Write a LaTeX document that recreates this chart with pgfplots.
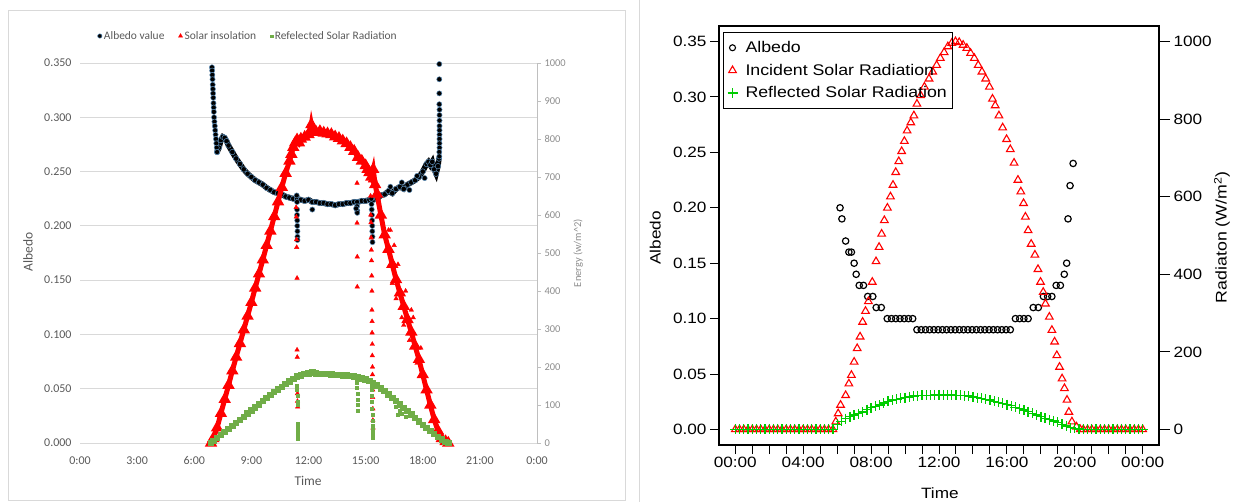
\documentclass[border=0pt]{standalone}
\usepackage{fontspec}
\setmainfont{Carlito}
\newfontfamily\arl[FakeStretch=1.15]{Liberation Sans}
\usepackage{pgfplots}
\pgfplotsset{compat=1.18}
\definecolor{xlgray}{HTML}{595959}
\definecolor{xllight}{HTML}{8C8C8C}
\definecolor{xlgrid}{HTML}{D9D9D9}
\definecolor{xlaxis}{HTML}{BFBFBF}
\definecolor{xlgreen}{HTML}{70AD47}
\definecolor{albedoedge}{HTML}{5B8DB8}
\definecolor{rgreen}{HTML}{00CC00}

\begin{document}
\begin{tikzpicture}
\path[use as bounding box] (0bp,0bp) rectangle (1236bp,502bp);
\draw[xlgrid, line width=0.8bp] (8bp,2bp) rectangle (625bp,492bp);
\draw[xlgrid, line width=0.8bp] (639bp,0bp) -- (639bp,502bp);

% ---------------- left panel: albedo (left axis)
\begin{axis}[at={(80bp,59bp)}, anchor=south west, scale only axis,
  width=457bp, height=380bp,
  xmin=0, xmax=24, ymin=0, ymax=0.35,
  xtick={0,3,6,9,12,15,18,21,24},
  xticklabels={0:00,3:00,6:00,9:00,12:00,15:00,18:00,21:00,0:00},
  ytick={0,0.05,0.1,0.15,0.2,0.25,0.3,0.35},
  yticklabels={0.000,0.050,0.100,0.150,0.200,0.250,0.300,0.350},
  ymajorgrids, grid style={xlgrid, line width=0.8bp},
  axis line style={draw=none}, major tick length=0pt,
  tick label style={font=\fontsize{12}{14}\selectfont, text=xlgray},
  xticklabel style={yshift=-10bp}, yticklabel style={xshift=-5bp},
  xlabel={Time}, xlabel style={at={(axis description cs:0.499,-0.1)}, anchor=center, font=\fontsize{13.5}{15}\selectfont, text=xlgray},
  ylabel={Albedo}, ylabel style={at={(axis description cs:-0.114,0.503)}, anchor=center, font=\fontsize{13.5}{15}\selectfont, text=xlgray},
  clip=false]
% main albedo band
\addplot[black, line width=5.5bp, mark=*, mark size=2.8bp, mark options={fill=black, draw=albedoedge, line width=0.5bp}] coordinates {
(7.2,0.268) (7.3,0.272) (7.4,0.279) (7.5,0.282) (7.6,0.281) (7.7,0.278) (7.8,0.274)
(8.0,0.268) (8.2,0.262) (8.4,0.257) (8.6,0.252) (8.8,0.248) (9.0,0.245) (9.2,0.242)
(9.4,0.240) (9.6,0.238) (9.8,0.235) (10.0,0.233) (10.2,0.231) (10.4,0.230) (10.6,0.229)
(10.8,0.227) (11.0,0.226) (11.2,0.225) (11.4,0.225) (11.6,0.224) (11.8,0.223) (12.0,0.224)
(12.2,0.222) (12.4,0.222) (12.6,0.221) (12.8,0.221) (13.0,0.220) (13.2,0.220) (13.4,0.219)
(13.6,0.220) (13.8,0.220) (14.0,0.221) (14.2,0.221) (14.4,0.222) (14.6,0.222) (14.8,0.223)
(15.0,0.223) (15.2,0.224) (15.4,0.224) (15.6,0.225) (15.8,0.228) (16.0,0.229) (16.2,0.232)
(16.4,0.230) (16.6,0.234) (16.8,0.236) (17.0,0.234) (17.2,0.238) (17.4,0.240) (17.6,0.242)
(17.8,0.245) (18.0,0.250) (18.2,0.257) (18.3,0.259) (18.4,0.256) (18.5,0.259) (18.6,0.252)
(18.7,0.248) (18.8,0.255) (18.85,0.262)};
% vertical columns and stray points
\addplot[only marks, mark=*, mark size=2.6bp, mark options={fill=black, draw=albedoedge, line width=0.5bp}] coordinates {
(6.93,0.346) (6.94,0.343) (6.95,0.339) (6.96,0.335) (6.97,0.330) (6.98,0.326) (6.99,0.322)
(7.00,0.318) (7.01,0.313) (7.02,0.309) (7.03,0.305) (7.04,0.300) (7.06,0.296) (7.08,0.292)
(7.10,0.288) (7.12,0.284) (7.14,0.280) (7.16,0.276) (7.18,0.272) (7.20,0.268)
(18.87,0.349) (18.87,0.335) (18.87,0.322) (18.87,0.312) (18.88,0.307) (18.88,0.302)
(18.88,0.297) (18.88,0.292) (18.88,0.288) (18.88,0.284) (18.88,0.280) (18.88,0.276)
(18.88,0.272) (18.87,0.268) (18.87,0.264)
(11.38,0.228) (11.40,0.222) (11.40,0.215) (11.40,0.210) (11.41,0.205) (11.41,0.200)
(11.42,0.195) (11.42,0.190) (11.42,0.187)
(12.2,0.215)
(14.55,0.222) (14.55,0.218) (14.56,0.214) (14.56,0.212) (14.5,0.216)
(15.30,0.225) (15.31,0.220) (15.32,0.215) (15.33,0.210) (15.34,0.205) (15.35,0.200)
(15.35,0.195) (15.36,0.190) (15.36,0.185)
(16.3,0.236) (16.9,0.240) (17.3,0.233) (17.7,0.246) (18.1,0.244)};
\end{axis}

% ---------------- left panel: energy (right axis)
\begin{axis}[at={(80bp,59bp)}, anchor=south west, scale only axis,
  width=457bp, height=380bp,
  xmin=0, xmax=24, ymin=0, ymax=1000,
  axis x line=none, axis y line*=right,
  y axis line style={xlaxis, line width=0.8bp},
  ytick={0,100,200,300,400,500,600,700,800,900,1000},
  /pgf/number format/assume math mode=true, /pgf/number format/1000 sep={},
  tick align=outside, major tick length=4bp, tick style={xlaxis, line width=0.8bp},
  yticklabel style={font=\fontsize{10.5}{12}\selectfont, text=xllight},
  ylabel={Energy (w/m\textasciicircum 2)}, ylabel style={at={(axis description cs:1.09,0.5)}, anchor=center, font=\fontsize{10.5}{12}\selectfont, text=xllight},
  legend columns=3,
  legend style={at={(axis description cs:0.368,1.071)}, anchor=center, draw=none, fill=none,
    font=\fontsize{11.5}{13}\selectfont, text=xlgray,
    /tikz/every even column/.append style={column sep=12bp}},
  legend image code/.code={\draw[#1] plot coordinates {(0bp,0bp)};},
  clip=false]
\addlegendimage{only marks, mark=*, mark size=2.2bp, mark options={fill=black, draw=albedoedge, line width=0.5bp}}
\addlegendentry{Albedo value}
\addlegendimage{only marks, red, mark=triangle*, mark size=2.4bp}
\addlegendentry{Solar insolation}
\addlegendimage{only marks, xlgreen, mark=square*, mark size=1.3bp}
\addlegendentry{Refelected Solar Radiation}
\addplot[red, line width=5bp, mark=triangle*, mark size=2.2bp, forget plot] coordinates {
(6.88,0) (7.0,12) (7.2,40) (7.4,78) (7.6,115) (7.8,152) (8.0,190) (8.2,226) (8.4,262)
(8.6,298) (8.8,334) (9.0,370) (9.2,408) (9.4,445) (9.6,482) (9.8,520) (10.0,558)
(10.2,596) (10.4,635) (10.6,673) (10.8,710) (11.0,742) (11.1,760) (11.2,778) (11.3,790)
(11.4,798) (11.5,790) (11.6,800) (11.8,805) (12.0,812) (12.1,822) (12.15,838) (12.2,825)
(12.4,818) (12.6,820) (12.8,816) (13.0,814) (13.2,812) (13.4,806) (13.6,802) (13.8,795)
(14.0,788) (14.2,778) (14.4,768) (14.6,752) (14.8,742) (15.0,730) (15.1,720) (15.2,712)
(15.3,700) (15.4,720) (15.5,680) (15.6,655) (15.8,600) (16.0,548) (16.2,510) (16.4,470)
(16.6,430) (16.8,395) (17.0,360) (17.2,325) (17.4,292) (17.6,255) (17.8,220) (18.0,180)
(18.2,140) (18.4,100) (18.6,62) (18.8,32) (19.0,12) (19.2,4) (19.34,0)};
\addplot[only marks, red, mark=triangle*, mark size=2.6bp, forget plot] coordinates {
(11.35,620) (11.36,595) (11.37,535) (11.38,515) (11.40,434) (11.40,245) (11.41,226)
(11.42,130) (11.42,110) (11.43,95)
(14.55,684) (14.55,579) (14.56,490) (14.56,411)
(15.25,690) (15.26,650) (15.27,600) (15.28,580) (15.29,540) (15.30,508) (15.31,480)
(15.32,440) (15.33,400) (15.33,350) (15.34,320) (15.34,290) (15.35,260) (15.35,230)
(15.36,200) (15.36,180) (15.37,140) (15.37,120) (15.38,90) (15.38,60) (15.39,40)
(16.2,560) (16.3,560) (16.4,420) (16.5,520) (16.6,380) (16.7,470) (16.9,330) (17.0,310)
(17.1,400) (17.3,270) (17.4,350) (17.5,330) (17.7,210) (17.9,250)};
\addplot[xlgreen, line width=3.5bp, mark=square*, mark size=1.5bp, forget plot] coordinates {
(6.88,0) (7.0,5) (7.2,13) (7.4,21) (7.6,29) (7.8,37) (8.0,45) (8.2,53) (8.4,61) (8.6,69)
(8.8,77) (9.0,85) (9.2,93) (9.4,101) (9.6,110) (9.8,118) (10.0,126) (10.2,134) (10.4,141)
(10.6,148) (10.8,155) (11.0,162) (11.2,169) (11.4,175) (11.6,178) (11.8,181) (12.0,183)
(12.2,185) (12.4,183) (12.6,182) (12.8,182) (13.0,181) (13.2,180) (13.4,179) (13.6,179)
(13.8,178) (14.0,177) (14.2,176) (14.4,175) (14.6,173) (14.8,170) (15.0,167) (15.2,163)
(15.4,158) (15.6,151) (15.8,144) (16.0,137) (16.2,128) (16.4,119) (16.6,110) (16.8,101)
(17.0,92) (17.2,84) (17.4,75) (17.6,66) (17.8,57) (18.0,48) (18.2,40) (18.4,32) (18.6,24)
(18.8,16) (19.0,9) (19.2,3) (19.34,0)};
\addplot[only marks, xlgreen, mark=square*, mark size=1.5bp, forget plot] coordinates {
(11.40,150) (11.40,140) (11.41,125) (11.41,110) (11.42,100) (11.42,50) (11.43,40)
(11.43,30) (11.44,20) (11.44,12)
(14.55,160) (14.55,145) (14.56,130) (14.56,115) (14.57,100) (14.57,85)
(15.30,150) (15.31,140) (15.32,125) (15.33,110) (15.34,90) (15.35,75) (15.36,60)
(15.37,45) (15.37,35) (15.38,25) (15.38,15)
(16.6,95) (16.7,75) (16.8,85) (16.9,78) (17.1,70)};
\end{axis}

% ---------------- right panel: albedo (left axis)
\begin{axis}[at={(719bp,57bp)}, anchor=south west, scale only axis,
  width=440bp, height=419bp,
  xmin=-0.96, xmax=24.96, ymin=-0.014, ymax=0.364,
  xtick={0,1,...,24},
  xticklabels={00:00,,,,04:00,,,,08:00,,,,12:00,,,,16:00,,,,20:00,,,,00:00},
  ytick={0,0.05,0.1,0.15,0.2,0.25,0.3,0.35},
  yticklabels={0.00,0.05,0.10,0.15,0.20,0.25,0.30,0.35},
  xtick pos=bottom, ytick pos=left,
  tick align=outside, major tick length=9bp, tick style={black, line width=1bp},
  axis line style={black, line width=1.2bp},
  tick label style={font=\arl\fontsize{15}{17}\selectfont},
  xlabel={Time}, xlabel style={at={(axis description cs:0.502,-0.115)}, anchor=center, font=\arl\fontsize{15}{17}\selectfont},
  ylabel={Albedo}, ylabel style={at={(axis description cs:-0.145,0.494)}, anchor=center, font=\arl\fontsize{15}{17}\selectfont}]
\addplot[only marks, black, mark=o, mark size=3.2bp, mark options={line width=1.2bp}] coordinates {
(6.17,0.20) (6.28,0.19) (6.5,0.17) (6.69,0.16) (6.84,0.16) (7.0,0.15) (7.12,0.14)
(7.3,0.13) (7.55,0.13) (7.8,0.12) (8.1,0.12) (8.3,0.11) (8.6,0.11)
(8.95,0.10) (9.2,0.10) (9.45,0.10) (9.7,0.10) (9.95,0.10) (10.2,0.10) (10.45,0.10)
(10.7,0.09) (10.95,0.09) (11.2,0.09) (11.45,0.09) (11.7,0.09) (11.95,0.09) (12.2,0.09)
(12.45,0.09) (12.7,0.09) (12.95,0.09) (13.2,0.09) (13.45,0.09) (13.7,0.09) (13.95,0.09)
(14.2,0.09) (14.45,0.09) (14.7,0.09) (14.95,0.09) (15.2,0.09) (15.45,0.09) (15.7,0.09)
(15.95,0.09) (16.2,0.09)
(16.5,0.10) (16.75,0.10) (17.0,0.10) (17.25,0.10) (17.55,0.11) (17.85,0.11)
(18.15,0.12) (18.4,0.12) (18.65,0.12) (18.9,0.13) (19.15,0.13) (19.38,0.14) (19.52,0.15)
(19.6,0.19) (19.72,0.22) (19.9,0.24)};
\end{axis}

% ---------------- right panel: radiation (right axis)
\begin{axis}[at={(719bp,57bp)}, anchor=south west, scale only axis,
  width=440bp, height=419bp,
  xmin=-0.96, xmax=24.96, ymin=-40, ymax=1040,
  axis x line=none, axis y line*=right,
  ytick={0,200,400,600,800,1000},
  /pgf/number format/assume math mode=true, /pgf/number format/1000 sep={},
  tick align=outside, major tick length=11bp, tick style={black, line width=1bp},
  axis line style={black, line width=1.2bp},
  yticklabel style={font=\arl\fontsize{15}{17}\selectfont},
  ylabel={Radiaton (W/m\textsuperscript{2})}, ylabel style={at={(axis description cs:1.143,0.496)}, anchor=center, font=\arl\fontsize{15.5}{17}\selectfont},
  legend style={at={(axis description cs:0.009,0.986)}, anchor=north west, draw=black, line width=1.1bp, fill=none,
    font=\arl\fontsize{15.5}{17}\selectfont, row sep=6bp, inner xsep=4bp, inner ysep=7bp,
    /tikz/every odd column/.append style={column sep=6bp}},
  legend cell align=left]
\addlegendimage{only marks, black, mark=o, mark size=3bp, mark options={line width=1.1bp}}
\addlegendentry{Albedo}
\addplot[only marks, red, mark=triangle, mark size=4.4bp, mark options={line width=1.1bp}] coordinates {
(0,0) (0.25,0) (0.5,0) (0.75,0) (1,0) (1.25,0) (1.5,0) (1.75,0) (2,0) (2.25,0) (2.5,0)
(2.75,0) (3,0) (3.25,0) (3.5,0) (3.75,0) (4,0) (4.25,0) (4.5,0) (4.75,0) (5,0) (5.25,0)
(5.5,0) (5.75,0) (5.92,20)
(6.06,41) (6.2,63) (6.5,88) (6.69,118) (6.84,140) (7.0,174) (7.18,209) (7.35,239)
(7.5,277) (7.67,305) (7.84,330) (8.07,380) (8.29,433) (8.47,470) (8.62,504) (8.78,539)
(8.96,571) (9.14,600) (9.29,630) (9.45,663) (9.63,691) (9.8,717) (9.96,743) (10.12,770)
(10.34,791) (10.52,809) (10.7,839) (10.92,861) (11.14,883) (11.41,904) (11.63,922)
(11.86,939) (12.08,957) (12.3,972) (12.52,987) (12.75,996) (12.97,1000) (13.19,998)
(13.42,991) (13.64,983) (13.86,970) (14.08,957) (14.31,939) (14.53,922) (14.75,904)
(14.97,883) (15.15,852) (15.31,835) (15.53,809) (15.75,778) (15.98,748) (16.2,722)
(16.42,687) (16.65,643) (16.82,613) (16.98,583) (17.09,548) (17.25,513) (17.43,478)
(17.65,450) (17.83,413) (17.98,380) (18.14,354) (18.27,324) (18.5,290) (18.65,256)
(18.81,226) (18.94,191) (19.1,161) (19.25,131) (19.39,106) (19.54,76) (19.65,45)
(19.83,20) (20.1,7) (20.32,0)
(20.5,0) (20.75,0) (21,0) (21.25,0) (21.5,0) (21.75,0) (22,0) (22.25,0) (22.5,0)
(22.75,0) (23,0) (23.25,0) (23.5,0) (23.75,0) (24,0)};
\addlegendentry{Incident Solar Radiation}
\addplot[only marks, rgreen, mark=+, mark size=5bp, mark options={line width=1.3bp}] coordinates {
(0,0) (0.25,0) (0.5,0) (0.75,0) (1,0) (1.25,0) (1.5,0) (1.75,0) (2,0) (2.25,0) (2.5,0)
(2.75,0) (3,0) (3.25,0) (3.5,0) (3.75,0) (4,0) (4.25,0) (4.5,0) (4.75,0) (5,0) (5.25,0)
(5.5,0) (5.75,0)
(6.0,13) (6.25,21) (6.5,28) (6.75,33) (7.0,37) (7.25,41) (7.5,45) (7.75,51) (8.0,56)
(8.25,60) (8.5,63) (8.75,68) (9.0,73) (9.25,76) (9.5,78) (9.75,80) (10.0,82) (10.25,84)
(10.5,86) (10.75,87) (11.0,88) (11.25,88) (11.5,88) (11.75,89) (12.0,89) (12.25,89)
(12.5,89) (12.75,89) (13.0,88) (13.25,88) (13.5,87) (13.75,86) (14.0,84) (14.25,82)
(14.5,80) (14.75,78) (15.0,76) (15.25,73) (15.5,70) (15.75,67) (16.0,64) (16.25,61)
(16.5,57) (16.75,54) (17.0,50) (17.25,46) (17.5,42) (17.75,37) (18.0,33) (18.25,29)
(18.5,25) (18.75,22) (19.0,18) (19.25,13) (19.5,9) (19.75,5) (20.0,3) (20.25,1)
(20.5,0) (20.75,0) (21,0) (21.25,0) (21.5,0) (21.75,0) (22,0) (22.25,0) (22.5,0)
(22.75,0) (23,0) (23.25,0) (23.5,0) (23.75,0) (24,0)};
\addlegendentry{Reflected Solar Radiation}
\end{axis}
\end{tikzpicture}
\end{document}
